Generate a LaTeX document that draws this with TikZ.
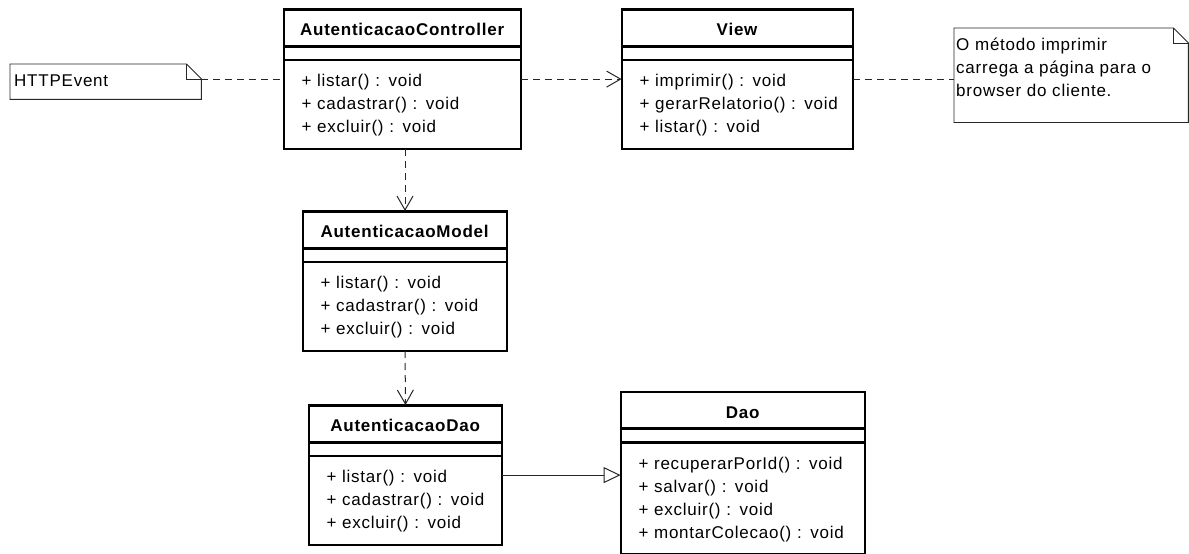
\documentclass[tikz,border=0pt]{standalone}
\usepackage{fontspec}
\setmainfont[LetterSpace=4.5]{Liberation Sans}
\usetikzlibrary{arrows.meta,shapes.multipart}

\newcommand{\clsname}[1]{\noindent\makebox[\hsize]{\rule[-3.5pt]{0pt}{23pt}\textbf{#1}}}
\newcommand{\opsfirst}{\rule{0pt}{20pt}}
\newcommand{\opslast}{\rule[-9pt]{0pt}{9pt}}

\begin{document}
\begin{tikzpicture}[x=1pt,y=-1pt,font=\fontsize{17pt}{23pt}\selectfont,
    umlclass/.style={draw, line width=0.8pt, fill=white, rectangle split, rectangle split parts=3,
        rectangle split empty part height=0pt, rectangle split empty part depth=0pt,
        anchor=north, inner xsep=17.5pt, inner ysep=6.5pt, align=left,
        postaction={draw, line width=2.6pt}},
    note/.style={anchor=north west, inner ysep=6pt, align=left},
    noteline/.style={draw=black!85, line width=0.9pt},
    depline/.style={draw=black!85, line width=1pt, dash pattern=on 7pt off 5pt},
    dep/.style={depline, -{Straight Barb[length=14pt,width=16pt]}},
    inherit/.style={draw=black!85, line width=1pt, -{Triangle[length=17pt,width=16pt,fill=white]}}]
    \useasboundingbox (0,0) rectangle (1189,554);

    \node[umlclass, text width=202pt] (ctrl) at (402.5,9) {\clsname{AutenticacaoController}
        \nodepart{second}
        \nodepart{third}\opsfirst + listar() : void\\ + cadastrar() : void\\ + excluir() : void\opslast};
    \node[umlclass, text width=196pt] (view) at (737.5,9) {\clsname{View}
        \nodepart{second}
        \nodepart{third}\opsfirst + imprimir() : void\\ + gerarRelatorio() : void\\ + listar() : void\opslast};
    \node[umlclass, text width=169pt] (model) at (405,211) {\clsname{AutenticacaoModel}
        \nodepart{second}
        \nodepart{third}\opsfirst + listar() : void\\ + cadastrar() : void\\ + excluir() : void\opslast};
    \node[umlclass, text width=158pt] (adao) at (405.5,405) {\clsname{AutenticacaoDao}
        \nodepart{second}
        \nodepart{third}\opsfirst + listar() : void\\ + cadastrar() : void\\ + excluir() : void\opslast};
    \node[umlclass, text width=209pt] (dao) at (743,391.5) {\clsname{Dao}
        \nodepart{second}
        \nodepart{third}\opsfirst + recuperarPorId() : void\\ + salvar() : void\\ + excluir() : void\\ + montarColecao() : void\opslast};

    \node[note, inner xsep=4pt, text width=183pt] (http) at (10,64) {\strut HTTPEvent};
    \coordinate (httpfold) at ([yshift=-15pt]http.north east);
    \draw[noteline] (http.north west) -- ([xshift=-15pt]http.north east) -- (httpfold) -- (http.south east) -- (http.south west) -- cycle;
    \draw[noteline] ([xshift=-15pt]http.north east) |- (httpfold);

    \node[note, inner xsep=2pt, text width=230pt] (info) at (954,28) {\strut O método imprimir\\ carrega a página para o\\ browser do cliente.\rule[-20pt]{0pt}{0pt}};
    \coordinate (infofold) at ([yshift=-15pt]info.north east);
    \draw[noteline] (info.north west) -- ([xshift=-15pt]info.north east) -- (infofold) -- (info.south east) -- (info.south west) -- cycle;
    \draw[noteline] ([xshift=-15pt]info.north east) |- (infofold);

    \draw[depline] (httpfold) -- (httpfold -| ctrl.west);
    \draw[dep] (ctrl.east) -- (view.west);
    \draw[depline] (view.east) -- (view.east -| info.west);
    \draw[dep] (model.north |- ctrl.south) -- (model.north);
    \draw[dep] (model.south) -- (adao.north);
    \draw[inherit] (adao.east) -- (adao.east -| dao.west);
\end{tikzpicture}
\end{document}
